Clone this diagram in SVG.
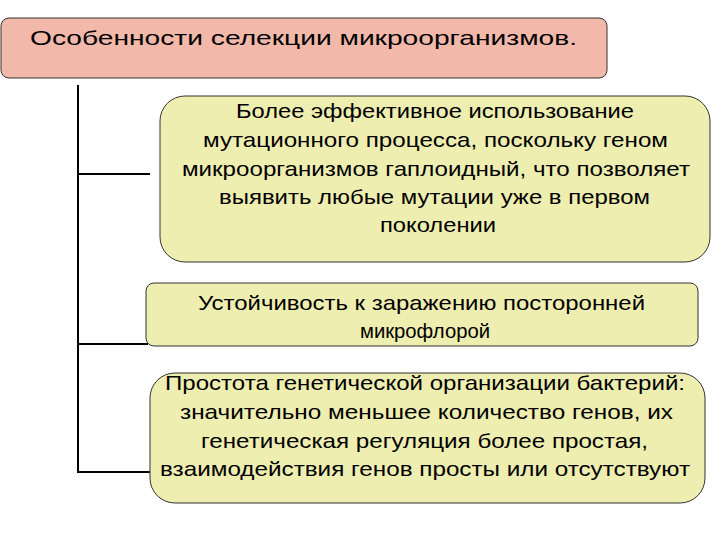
<svg xmlns="http://www.w3.org/2000/svg" width="720" height="540" viewBox="0 0 720 540">
<style>
text{font-family:"Liberation Sans",Arial,sans-serif;font-size:21px;fill:#000}
.box{fill:#eeeeb0;stroke:#333;stroke-width:1}
line{stroke:#000;stroke-width:2}
</style>
<rect width="720" height="540" fill="#fff"/>
<g id="title">
<rect x="1" y="18" width="606" height="60" rx="8" fill="#f2b9aa" stroke="#333"/>
<text x="30" y="45" textLength="547" lengthAdjust="spacingAndGlyphs" font-size="22">Особенности селекции микроорганизмов.</text>
</g>
<g id="connectors">
<line x1="78" y1="85" x2="78" y2="473"/>
<line x1="77" y1="174" x2="150" y2="174"/>
<line x1="77" y1="344" x2="148" y2="344"/>
<line x1="77" y1="472" x2="152" y2="472"/>
</g>
<g id="n1">
<rect class="box" x="160" y="96" width="550" height="166" rx="25"/>
<text x="236" y="118" textLength="398" lengthAdjust="spacingAndGlyphs">Более эффективное использование</text>
<text x="203" y="147" textLength="465" lengthAdjust="spacingAndGlyphs">мутационного процесса, поскольку геном</text>
<text x="182" y="176" textLength="508" lengthAdjust="spacingAndGlyphs">микроорганизмов гаплоидный, что позволяет</text>
<text x="219" y="204" textLength="431" lengthAdjust="spacingAndGlyphs">выявить любые мутации уже в первом</text>
<text x="380" y="232" textLength="116" lengthAdjust="spacingAndGlyphs">поколении</text>
</g>
<g id="n2">
<rect class="box" x="146" y="283" width="552" height="63" rx="8"/>
<text x="198" y="310" textLength="447" lengthAdjust="spacingAndGlyphs">Устойчивость к заражению посторонней</text>
<text x="360" y="338" textLength="130" lengthAdjust="spacingAndGlyphs">микрофлорой</text>
</g>
<g id="n3">
<rect class="box" x="150" y="373" width="555" height="130" rx="25"/>
<text x="165" y="390" textLength="520" lengthAdjust="spacingAndGlyphs">Простота генетической организации бактерий:</text>
<text x="180" y="419" textLength="493" lengthAdjust="spacingAndGlyphs">значительно меньшее количество генов, их</text>
<text x="201" y="448" textLength="447" lengthAdjust="spacingAndGlyphs">генетическая регуляция более простая,</text>
<text x="160" y="476" textLength="530" lengthAdjust="spacingAndGlyphs">взаимодействия генов просты или отсутствуют</text>
</g>
</svg>
